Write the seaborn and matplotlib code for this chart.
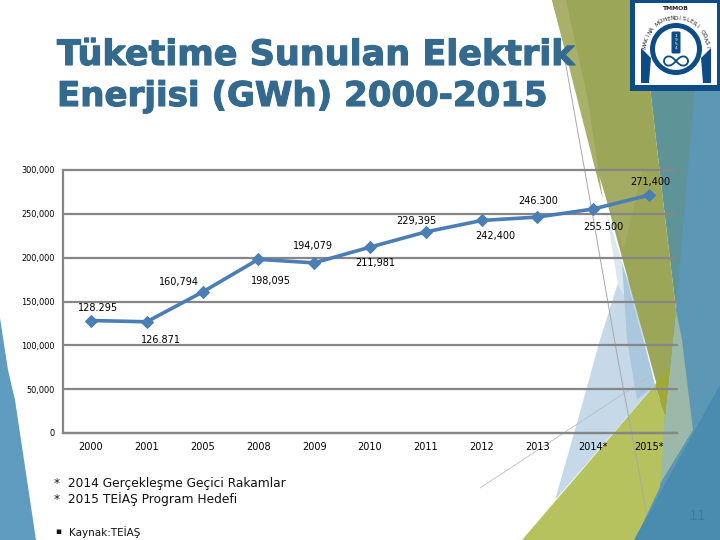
import numpy as np
import pandas as pd
import seaborn as sns
import matplotlib.pyplot as plt
import matplotlib.patheffects as pe
from matplotlib.patches import Polygon, Rectangle, Wedge, FancyBboxPatch

years = ["2000", "2001", "2005", "2008", "2009", "2010", "2011", "2012", "2013", "2014*", "2015*"]
gwh = [128295, 126871, 160794, 198095, 194079, 211981, 229395, 242400, 246300, 255500, 271400]
value_labels = ["128.295", "126.871", "160,794", "198,095", "194,079", "211,981",
                "229,395", "242,400", "246.300", "255.500", "271,400"]
y_ticks = [0, 50000, 100000, 150000, 200000, 250000, 300000]

# label offset from its point, pixels
label_offsets = [(7, 13), (14, -18), (-24, 10), (13, -22), (-1, 17), (5, -16),
                 (-9, 11), (14, -16), (1, 16), (10, -18), (1, 13)]

TITLE_COLOR = "#336A8E"
LOGO_BLUE = "#0E4C85"
GRID = "#868686"
LINE = "#4A7EB5"

# background shapes of the slide, in pixels
slide_shapes = [
    ("#5F9CC0", [(0, 318), (8, 370), (15, 400), (36, 540), (0, 540)]),
    ("#5C97B6", [(690, 0), (720, 0), (720, 540), (634, 540), (676, 310)]),
    ("#5E9398", [(640, 0), (702, 0), (676, 310), (663, 200)]),
    ("#C5D9E8", [(623, 267), (600, 340), (577, 423), (555, 500), (655, 385), (632, 290)]),
    ("#DCE8F0", [(606, 210), (622, 262), (627, 300), (618, 285)]),
    ("#A9C8DE", [(622, 262), (643, 340), (655, 385), (637, 400), (627, 340)]),
    ("#9CB8A8", [(676, 310), (682, 340), (693, 430), (658, 487), (665, 415)]),
    ("#9CA659", [(552, 0), (640, 0), (663, 200), (676, 310), (665, 415)]),
    ("#A8B06A", [(552, 0), (566, 0), (588, 100), (603, 200)]),
    ("#A3AC62", [(597, 170), (642, 170), (624, 250)]),
    ("#B5C25E", [(522, 540), (655, 385), (665, 415), (660, 487), (635, 540)]),
    ("#A2A836", [(655, 385), (670, 365), (665, 415)]),
    ("#4A8BB0", [(720, 385), (634, 540), (720, 540)]),
]
thin_line_1 = [(565, 60), (590, 200), (618, 360), (647, 515)]
thin_line_2 = [(480, 488), (652, 375)]

sns.set_theme(style="white")
plt.rcParams["font.family"] = ["DejaVu Sans"]

fig = plt.figure(figsize=(7.2, 5.4), dpi=100)

# slide background
bg = fig.add_axes([0, 0, 1, 1], zorder=0)
bg.set_xlim(0, 720)
bg.set_ylim(540, 0)
bg.axis("off")
for color, pts in slide_shapes:
    bg.add_patch(Polygon(pts, closed=True, fc=color, ec="none"))
bg.plot(*zip(*thin_line_1), color="#A8A8A8", lw=0.7)
bg.plot(*zip(*thin_line_2), color="#BDBDBD", lw=0.6)

# chart
ax = fig.add_axes([63 / 720, 1 - 433 / 540, 614 / 720, 263 / 540], zorder=1)
ax.patch.set_alpha(0)
df = pd.DataFrame({"year": years, "gwh": gwh})
sns.lineplot(data=df, x="year", y="gwh", sort=False, ax=ax, color=LINE, linewidth=2.6,
             marker="D", markersize=6.5, markeredgecolor=LINE, errorbar=None, zorder=3)
ax.set_xlim(-0.5, len(years) - 0.5)
ax.set_ylim(0, 300000)
ax.set_yticks(y_ticks)
ax.set_yticklabels(["{:,}".format(v) for v in y_ticks])
ax.set_xlabel("")
ax.set_ylabel("")
ax.grid(axis="y", color=GRID, linewidth=1.6)
ax.set_axisbelow(True)
for gl in ax.get_ygridlines():
    gl.set_clip_on(False)
for side in ["top", "right"]:
    ax.spines[side].set_visible(False)
for side in ["left", "bottom"]:
    ax.spines[side].set_color(GRID)
    ax.spines[side].set_linewidth(1.6)
ax.tick_params(axis="both", length=0, colors="black")
ax.tick_params(axis="x", labelsize=7, pad=6.5)
ax.tick_params(axis="y", labelsize=5.9, pad=6)

for i, (val, lab) in enumerate(zip(gwh, value_labels)):
    ax.annotate(lab, (i, val), xytext=label_offsets[i], textcoords="offset pixels",
                ha="center", va="center", fontsize=7, color="black", zorder=5)

# title
heavy = [pe.withStroke(linewidth=0.8, foreground=TITLE_COLOR)]
bg.text(57, 65, "Tüketime Sunulan Elektrik", weight="bold", path_effects=heavy,
        fontsize=25.2, color=TITLE_COLOR, ha="left", va="baseline")
bg.text(57, 106, "Enerjisi (GWh) 2000-2015", weight="bold", path_effects=heavy,
        fontsize=24.5, color=TITLE_COLOR, ha="left", va="baseline")

# footnotes
bg.text(54, 483, "*  2014 Gerçekleşme Geçici Rakamlar", fontsize=8.8, va="center", color="#111111")
bg.text(54, 499, "*  2015 TEİAŞ Program Hedefi", fontsize=8.8, va="center", color="#111111")
bg.text(55, 532, "▪", fontsize=6.5, va="center", color="#111111")
bg.text(69, 532, "Kaynak:TEİAŞ", fontsize=7.5, va="center", color="#111111")
bg.text(697, 516, "11", fontsize=10, ha="center", va="center", color="#3B7DA6")

# logo
bg.add_patch(Rectangle((630, 0), 90, 91, fc=LOGO_BLUE, ec="none", zorder=4))
bg.add_patch(Rectangle((635, 3), 82, 82, fc="white", ec="none", zorder=4))
cx, cy = 676, 49
bg.add_patch(Wedge((cx, cy), 26, 0, 360, width=5, fc=LOGO_BLUE, ec="none", zorder=5))
bg.add_patch(Polygon([(641, 83), (641, 48), (651, 58), (649, 83)], fc=LOGO_BLUE, ec="none", zorder=5))
bg.add_patch(Polygon([(711, 83), (711, 48), (701, 58), (703, 83)], fc=LOGO_BLUE, ec="none", zorder=5))
bg.add_patch(FancyBboxPatch((673, 33), 6, 19, boxstyle="round,pad=1.5", fc=LOGO_BLUE, ec="none", zorder=6))
bg.text(cx, 42, "1\n9\n5\n4", fontsize=3.2, color="white", ha="center", va="center",
        linespacing=0.95, zorder=7)
t = np.linspace(0, 2 * np.pi, 80)
bg.plot(cx + 12 * np.cos(t) / (1 + np.sin(t) ** 2),
        61 + 13 * np.sin(t) * np.cos(t) / (1 + np.sin(t) ** 2),
        color=LOGO_BLUE, lw=1.3, zorder=6)
bg.text(cx, 9, "TMMOB", fontsize=4.4, weight="bold", color="#222222", ha="center", va="center", zorder=7)
arc_text = "MAKİNA MÜHENDİSLERİ ODASI"
for ch, ang in zip(arc_text, np.linspace(176, 4, len(arc_text))):
    a = np.deg2rad(ang)
    bg.text(cx + 31 * np.cos(a), cy - 31 * np.sin(a), ch, fontsize=4.2, color="#222222",
            rotation=ang - 90, rotation_mode="anchor", ha="center", va="center", zorder=7)

fig.savefig("out.png", dpi=100)
